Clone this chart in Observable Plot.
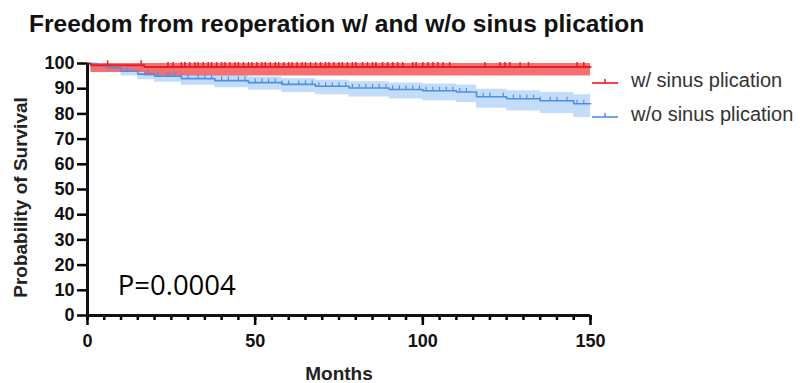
<!DOCTYPE html>
<html>
<head>
<meta charset="utf-8">
<script src="https://cdn.jsdelivr.net/npm/d3@7"></script>
<script src="https://cdn.jsdelivr.net/npm/@observablehq/plot@0.6"></script>
<style>
  html, body { margin: 0; padding: 0; background: #fff; }
  #wrap { position: relative; width: 805px; height: 383px; overflow: hidden; font-family: "Liberation Sans", Arial, sans-serif; }
  #title { position: absolute; left: 29px; top: 1px; height: 45px; line-height: 45px; font-size: 24.5px; font-weight: bold; color: #111; white-space: nowrap; }
  #chart { position: absolute; left: 0; top: 45px; }
  .leg { position: absolute; left: 590px; height: 22px; white-space: nowrap; font-size: 20px; color: #333; }
  .leg svg { vertical-align: middle; }
</style>
</head>
<body>
<div id="wrap">
  <div id="title">Freedom from reoperation w/ and w/o sinus plication</div>
  <div id="chart"></div>
  <div id="legend"></div>
</div>
<script>
// ---- data ----
const seriesNames = ["w/ sinus plication", "w/o sinus plication"];
const seriesColors = ["#ec1c24", "#4a8fe7"];
const bandColors = ["#f46262", "#a9cdf6"];

// w/ sinus plication (red) Kaplan-Meier steps
const redTime  = [0, 1, 17, 150];
const redSurv  = [100, 99.3, 98.6, 98.6];
const redLow   = [100, 96.4, 95.0, 94.3];
const redUp    = [100, 100, 100, 100];
const redCensor = [6, 16, 24, 25.5, 28, 29, 30.5, 32, 33, 34.5, 36, 37, 38.5, 40, 41, 42.5, 44, 45, 46.5, 48, 49, 50.5, 52, 53, 54.5, 56, 57, 58.5, 60, 61, 62.5, 64, 65, 66.5, 68, 69.5, 71, 72, 73.5, 75, 76, 77.5, 79, 80, 82, 83.5, 85, 86, 88, 89.5, 91, 92.5, 94, 97, 98, 100, 101.5, 103, 104.5, 106, 108, 118.5, 123, 124.5, 126, 129, 131.5, 146, 148];

// w/o sinus plication (blue) Kaplan-Meier steps
const blueTime = [0, 3, 6, 10, 15, 20, 28, 38, 48, 58, 68, 78, 90, 100, 110, 116, 125, 135, 145, 150];
const blueSurv = [100, 99.2, 98.3, 97.0, 95.8, 95.0, 94.0, 93.2, 92.4, 91.7, 91.0, 90.3, 89.7, 89.2, 88.7, 86.8, 86.0, 85.2, 84.0, 84.0];
const blueLow  = [100, 98.0, 96.7, 95.0, 93.6, 92.6, 91.4, 90.4, 89.4, 88.5, 87.6, 86.7, 85.9, 85.2, 84.5, 82.2, 81.2, 80.2, 78.6, 78.6];
const blueUp   = [100, 99.8, 99.3, 98.4, 97.4, 96.8, 96.0, 95.3, 94.6, 94.0, 93.4, 92.8, 92.3, 91.9, 91.5, 89.8, 89.2, 88.5, 87.6, 87.6];
const blueCensor = [12, 18, 21, 24, 26, 28, 30, 33, 35, 37, 40, 42, 45, 47, 50, 52, 54, 56, 58, 60, 63, 65, 67, 69, 71, 73, 75, 77, 79, 81, 83, 85, 87, 89, 91, 93, 95, 97, 99, 101, 103, 105, 107, 109, 111, 113, 118, 120, 124, 127, 129, 131, 133, 135, 138, 140, 143, 146, 148];

const xMajorTicks = [0, 50, 100, 150];
const xMinorTicks = d3.range(0, 151, 5);
const yTicks = d3.range(0, 101, 10);
const pText = "P=0.0004";
const pPos = {x: 9, y: 8};

// ---- build tables ----
function steps(times, surv, low, up) {
  return times.map((t, i) => ({t, s: surv[i], lo: low[i], hi: up[i]}));
}
function stepAt(times, vals, t) {
  let v = vals[0];
  for (let i = 0; i < times.length; i++) if (times[i] <= t) v = vals[i];
  return v;
}
const red = steps(redTime, redSurv, redLow, redUp);
const blue = steps(blueTime, blueSurv, blueLow, blueUp);
const redC = redCensor.map(t => ({t, s: stepAt(redTime, redSurv, t)}));
const blueC = blueCensor.map(t => ({t, s: stepAt(blueTime, blueSurv, t)}));

const font = "Liberation Sans, Arial, sans-serif";

const chart = Plot.plot({
  width: 805,
  height: 338,
  marginLeft: 87,
  marginRight: 215,
  marginTop: 18,
  marginBottom: 68,
  style: {fontFamily: font, background: "transparent", overflow: "visible"},
  x: {domain: [0, 150]},
  y: {domain: [0, 100]},
  marks: [
    Plot.areaY(blue, {x: "t", y1: "lo", y2: "hi", curve: "step-after", fill: bandColors[1], fillOpacity: 0.7}),
    Plot.areaY(red, {x: "t", y1: "lo", y2: "hi", curve: "step-after", fill: bandColors[0], fillOpacity: 0.9}),
    Plot.line(blue, {x: "t", y: "s", curve: "step-after", stroke: seriesColors[1], strokeWidth: 1.6}),
    Plot.ruleX(blueC, {x: "t", y1: "s", y2: d => d.s + 1.4, stroke: seriesColors[1], strokeWidth: 1.2}),
    Plot.line(red, {x: "t", y: "s", curve: "step-after", stroke: seriesColors[0], strokeWidth: 2}),
    Plot.ruleX(redC, {x: "t", y1: "s", y2: d => d.s + 1.8, stroke: seriesColors[0], strokeWidth: 1.5}),
    Plot.axisX({ticks: xMinorTicks, tickSize: 5, strokeWidth: 2.5, text: null, label: null}),
    Plot.axisX({ticks: xMajorTicks, tickSize: 10, strokeWidth: 2.5, tickPadding: 9, fontSize: 18, fontWeight: "bold", fill: "#111",
      label: "Months", labelAnchor: "center", labelArrow: "none", labelOffset: 64}),
    Plot.axisY({ticks: yTicks, tickSize: 10, strokeWidth: 2.5, tickPadding: 3, fontSize: 18, fontWeight: "bold", fill: "#111",
      label: "Probability of Survival", labelAnchor: "center", labelArrow: "none", labelOffset: 74}),
    Plot.ruleY([0], {stroke: "#111", strokeWidth: 3}),
    Plot.ruleX([0], {stroke: "#111", strokeWidth: 3}),
    Plot.text([pText], {x: pPos.x, y: pPos.y, text: d => d, textAnchor: "start", lineAnchor: "bottom",
      fontSize: 27.5, fontFamily: "Open Sans, sans-serif", fontWeight: "normal", fill: "#000"})
  ]
});
document.getElementById("chart").appendChild(chart);

// axis label styling
chart.querySelectorAll('g[aria-label="x-axis label"] text, g[aria-label="y-axis label"] text').forEach(t => {
  t.setAttribute("font-size", "19");
  t.setAttribute("font-weight", "bold");
  t.setAttribute("fill", "#222");
});
chart.querySelectorAll('g[aria-label="y-axis label"] text').forEach(t => {
  const tr = t.getAttribute("transform") || "";
  t.setAttribute("transform", tr + " translate(-8,0)");
});

// legend (HTML, to the right of the plot)
const legendY = [69, 103];
const legend = document.getElementById("legend");
seriesNames.forEach((name, i) => {
  const div = document.createElement("div");
  div.className = "leg";
  div.style.top = legendY[i] + "px";
  div.innerHTML = `<svg width="30" height="22"><line x1="2" x2="28" y1="12" y2="12" stroke="${seriesColors[i]}" stroke-width="1.6"/><line x1="15" x2="15" y1="12" y2="8" stroke="${seriesColors[i]}" stroke-width="1.5"/></svg><span style="margin-left:11px">${name}</span>`;
  legend.appendChild(div);
});
</script>
</body>
</html>
